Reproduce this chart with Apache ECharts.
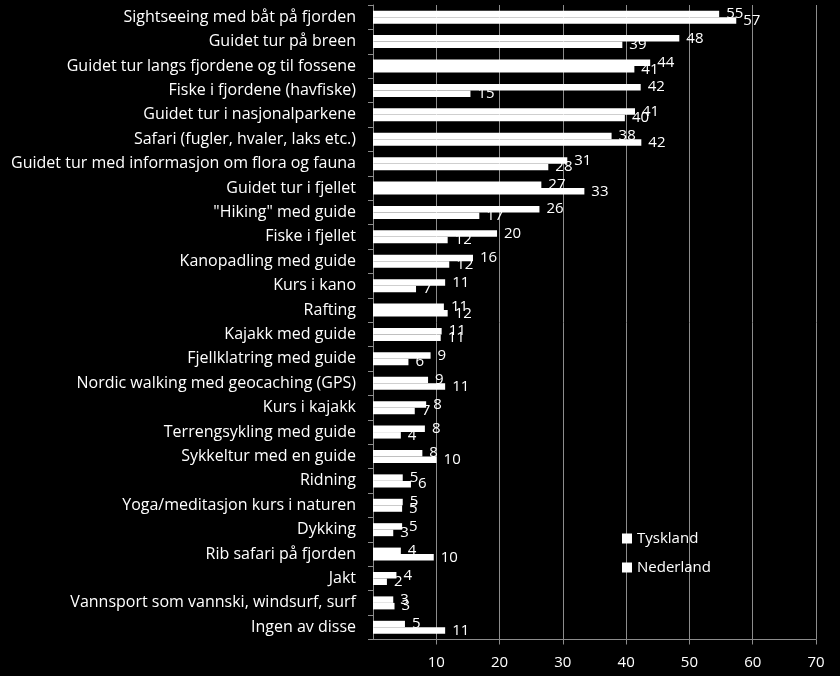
<!DOCTYPE html>
<html>
<head>
<meta charset="utf-8">
<script src="https://cdn.jsdelivr.net/npm/echarts@6/dist/echarts.min.js"></script>
<style>
html,body{margin:0;padding:0;background:#000;}
#chart{width:840px;height:676px;}
</style>
</head>
<body>
<div id="chart"></div>
<script>
var categories = [
  'Sightseeing med båt på fjorden',
  'Guidet tur på breen',
  'Guidet tur langs fjordene og til fossene',
  'Fiske i fjordene (havfiske)',
  'Guidet tur i nasjonalparkene',
  'Safari (fugler, hvaler, laks etc.)',
  'Guidet tur med informasjon om flora og fauna',
  'Guidet tur i fjellet',
  '"Hiking" med guide',
  'Fiske i fjellet',
  'Kanopadling med guide',
  'Kurs i kano',
  'Rafting',
  'Kajakk med guide',
  'Fjellklatring med guide',
  'Nordic walking med geocaching (GPS)',
  'Kurs i kajakk',
  'Terrengsykling med guide',
  'Sykkeltur med en guide',
  'Ridning',
  'Yoga/meditasjon kurs i naturen',
  'Dykking',
  'Rib safari på fjorden',
  'Jakt',
  'Vannsport som vannski, windsurf, surf',
  'Ingen av disse'
];
var tyskland = [54.7, 48.4, 43.8, 42.3, 41.4, 37.7, 30.7, 26.6, 26.3, 19.6, 15.8, 11.4, 11.2, 10.85, 9.1, 8.7, 8.4, 8.2, 7.8, 4.7, 4.7, 4.6, 4.4, 3.7, 3.2, 5.05];
var nederland = [57.4, 39.4, 41.3, 15.4, 39.8, 42.4, 27.7, 33.4, 16.8, 11.8, 12.05, 6.8, 11.8, 10.7, 5.6, 11.4, 6.6, 4.4, 10.05, 6.0, 4.6, 3.2, 9.6, 2.2, 3.4, 11.4];
var xTicks = { min: 0, max: 70, interval: 10 };

var FONT = 'Open Sans';
var chart = echarts.init(document.getElementById('chart'));
var lbl = {
  show: true, position: 'right', distance: 7, color: '#fff',
  fontFamily: FONT, fontSize: 15,
  formatter: function (p) { return Math.round(p.value); }
};
chart.setOption({
  backgroundColor: '#000',
  animation: false,
  grid: { left: 373, right: 24, top: 5, bottom: 36.5, containLabel: false },
  legend: {
    orient: 'vertical', left: 617, top: 526,
    itemWidth: 10, itemHeight: 10, itemGap: 14, icon: 'rect',
    textStyle: { color: '#fff', fontFamily: FONT, fontSize: 15 },
    data: ['Tyskland', 'Nederland']
  },
  xAxis: {
    type: 'value', min: xTicks.min, max: xTicks.max, interval: xTicks.interval,
    axisLine: { show: true, lineStyle: { color: '#8c8c8c', width: 1 } },
    axisTick: { show: true, length: 5, lineStyle: { color: '#8c8c8c' } },
    axisLabel: { showMinLabel: false, color: '#fff', fontFamily: FONT, fontSize: 15, margin: 16 },
    splitLine: { show: true, lineStyle: { color: '#8c8c8c', width: 1 } }
  },
  yAxis: {
    type: 'category', inverse: true, data: categories,
    axisLine: { show: true, lineStyle: { color: '#8c8c8c', width: 1 } },
    axisTick: { show: true, length: 5, lineStyle: { color: '#8c8c8c' } },
    axisLabel: { color: '#fff', fontFamily: FONT, fontSize: 16, margin: 17 }
  },
  series: [
    { name: 'Tyskland', type: 'bar', data: tyskland, barWidth: 6.5, barGap: '0%',
      itemStyle: { color: '#fff' }, label: lbl },
    { name: 'Nederland', type: 'bar', data: nederland, barWidth: 6.5, barGap: '0%',
      itemStyle: { color: '#fff' }, label: lbl }
  ]
});
</script>
</body>
</html>
